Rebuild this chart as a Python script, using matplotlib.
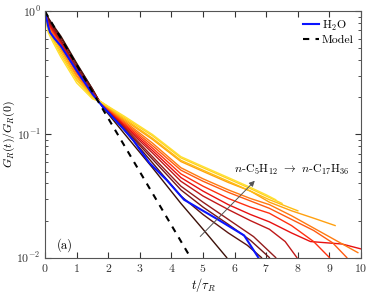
import numpy as np
import matplotlib
matplotlib.use("Agg")
import matplotlib.pyplot as plt

plt.rcParams["font.family"] = "serif"
plt.rcParams["font.serif"] = ["cmr10", "DejaVu Serif"]
plt.rcParams["mathtext.fontset"] = "cm"
plt.rcParams["axes.formatter.use_mathtext"] = True

# n-alkane curves, C5 (darkest) -> C17 (yellow); values are log10 of G_R(t)/G_R(0)
early_t = [0, 0.1, 0.25, 0.5, 1.0, 1.5, 1.8, 2.5, 3.4]
alk_t = [
    early_t + [4.3, 5.0, 5.75],
    early_t + [4.3, 5.0, 5.8, 6.4, 6.85],
    early_t + [4.3, 5.0, 5.8, 6.5, 7.1],
    early_t + [4.3, 5.0, 5.8, 6.6, 7.3],
    early_t + [4.3, 5.0, 5.8, 6.5, 7.1, 7.6, 7.97],
    early_t + [4.3, 5.0, 5.8, 6.5, 7.1, 7.8, 8.4, 8.9, 9.4, 10.0],
    early_t + [4.3, 5.0, 5.8, 6.5, 7.1, 7.8, 8.5, 9.0],
    early_t + [4.3, 5.0, 5.8, 6.5, 7.1, 7.8, 8.5, 9.1, 9.55],
    early_t + [4.3, 5.0, 5.8, 6.5, 7.1, 7.8, 8.5, 9.2, 9.9],
    early_t + [4.3, 5.0, 5.8, 6.5, 7.1, 7.8, 8.5, 9.18],
    early_t + [4.3, 5.0, 5.8, 6.5, 7.1, 7.6, 8.0],
    early_t + [4.3, 5.0, 5.8, 6.5, 7.0, 7.5],
    early_t + [4.3, 5.0, 5.8, 6.5, 7.0, 7.3],
]
alk_log = [
    [0, -0.05, -0.11, -0.20, -0.42, -0.63, -0.77, -0.99, -1.27, -1.56, -1.77, -2.0],
    [0, -0.06, -0.12, -0.21, -0.43, -0.63, -0.765, -0.96, -1.23, -1.50, -1.65, -1.80, -1.90, -2.0],
    [0, -0.07, -0.13, -0.23, -0.45, -0.64, -0.76, -0.95, -1.20, -1.45, -1.59, -1.73, -1.86, -2.0],
    [0, -0.08, -0.14, -0.24, -0.46, -0.65, -0.76, -0.94, -1.18, -1.42, -1.55, -1.69, -1.83, -2.0],
    [0, -0.09, -0.15, -0.25, -0.47, -0.66, -0.755, -0.93, -1.15, -1.38, -1.50, -1.61, -1.70, -1.77, -1.87, -2.0],
    [0, -0.10, -0.16, -0.26, -0.48, -0.67, -0.755, -0.92, -1.13, -1.35, -1.46, -1.57, -1.65, -1.71, -1.80, -1.87,
     -1.88, -1.89, -1.93],
    [0, -0.11, -0.17, -0.27, -0.49, -0.67, -0.75, -0.91, -1.11, -1.32, -1.42, -1.52, -1.59, -1.64, -1.74, -1.87, -2.0],
    [0, -0.12, -0.18, -0.28, -0.50, -0.68, -0.75, -0.90, -1.09, -1.29, -1.38, -1.47, -1.54, -1.60, -1.69, -1.78,
     -1.88, -2.0],
    [0, -0.13, -0.19, -0.30, -0.52, -0.68, -0.745, -0.89, -1.07, -1.27, -1.36, -1.45, -1.52, -1.57, -1.66, -1.76,
     -1.86, -1.96],
    [0, -0.14, -0.20, -0.31, -0.53, -0.69, -0.745, -0.88, -1.04, -1.22, -1.30, -1.39, -1.46, -1.55, -1.62, -1.68, -1.74],
    [0, -0.15, -0.22, -0.33, -0.55, -0.69, -0.74, -0.87, -1.03, -1.21, -1.29, -1.38, -1.46, -1.53, -1.58, -1.62],
    [0, -0.16, -0.23, -0.35, -0.56, -0.70, -0.74, -0.86, -1.01, -1.19, -1.27, -1.36, -1.44, -1.50, -1.56],
    [0, -0.17, -0.25, -0.37, -0.58, -0.71, -0.74, -0.85, -1.00, -1.18, -1.26, -1.35, -1.43, -1.49, -1.53],
]
alk_colors = ["#3b1008", "#5a1410", "#761818", "#931c1c", "#c01818", "#e81010", "#ff3010",
              "#ff5a10", "#ff7a10", "#ffa010", "#ffbc10", "#ffd020", "#ffe030"]

water_t = [0, 0.1, 0.16, 0.3, 0.5, 0.75, 1.0, 1.5, 1.75, 2.0, 2.5, 2.8, 3.3, 3.85, 4.4, 5.0, 5.4,
           5.85, 6.3, 6.5, 6.75]
water_log = [0, -0.12, -0.17, -0.22, -0.28, -0.38, -0.48, -0.67, -0.75, -0.82, -0.96, -1.05, -1.23,
             -1.37, -1.53, -1.62, -1.68, -1.75, -1.82, -1.90, -2.0]

model_t = np.linspace(0, 5, 50)

fig = plt.figure(figsize=(3.74, 2.93), dpi=100)
ax = fig.add_axes([0.1203, 0.121, 0.845, 0.840])

for t, lg, c in zip(alk_t, alk_log, alk_colors):
    ax.plot(t, 10 ** np.array(lg), color=c, lw=1.0)

ax.plot(water_t, 10 ** np.array(water_log), color="#0a14ff", lw=1.5, label=r"H$_2$O")
ax.plot(model_t, np.exp(-model_t), color="black", lw=1.5, ls=(0, (3, 3)), label="Model")

ax.set_yscale("log")
ax.set_xlim(0, 10)
ax.set_ylim(1e-2, 1)
ax.set_xticks(range(0, 11))
ax.tick_params(which="both", direction="in", top=True, right=True, labelsize=8.5, colors="#333333")
ax.tick_params(which="major", length=4, pad=3)
ax.tick_params(which="minor", length=2)
for s in ax.spines.values():
    s.set_color("#555555")
    s.set_linewidth(0.8)

ax.set_xlabel(r"$t/\tau_R$", fontsize=9)
ax.xaxis.set_label_coords(0.5, -0.075)
ax.set_ylabel(r"$G_R(t)/G_R(0)$", fontsize=8.5)
ax.yaxis.set_label_coords(-0.09, 0.5)

ax.text(0.62, 1.25e-2, "(a)", fontsize=9, ha="center", va="center")
ax.annotate("", xy=(6.7, 10 ** -1.36), xytext=(4.85, 10 ** -1.845),
            arrowprops=dict(arrowstyle="-|>", color="#555555", lw=0.7, mutation_scale=8))
ax.text(7.8, 10 ** -1.29, r"$n$-C$_5$H$_{12}$ $\rightarrow$ $n$-C$_{17}$H$_{36}$",
        fontsize=8.5, ha="center", va="center")

ax.legend(loc="upper right", frameon=False, fontsize=8.5, handlelength=1.3,
          handletextpad=0.3, borderaxespad=0.2, labelspacing=0.2)

fig.savefig("out.png", dpi=100)
